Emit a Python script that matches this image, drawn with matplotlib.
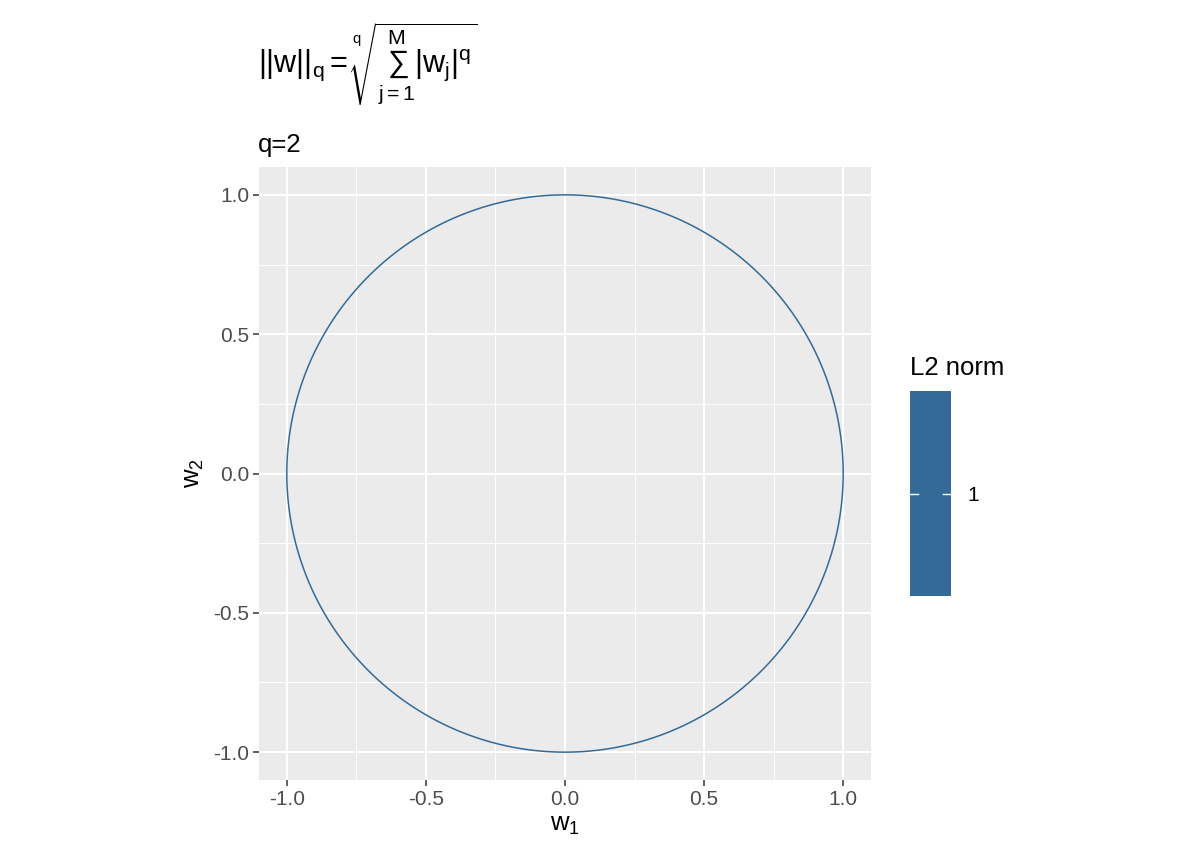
import numpy as np
import matplotlib.pyplot as plt

plt.rcParams['font.family'] = ['Liberation Sans', 'DejaVu Sans']
plt.rcParams['mathtext.fontset'] = 'custom'
plt.rcParams['mathtext.rm'] = 'Liberation Sans'
plt.rcParams['mathtext.it'] = 'Liberation Sans'
plt.rcParams['mathtext.bf'] = 'Liberation Sans:bold'

# data
q = 2
levels = [1]
ticks = [-1.0, -0.5, 0.0, 0.5, 1.0]
tick_labels = ['-1.0', '-0.5', '0.0', '0.5', '1.0']
minor = [-0.75, -0.25, 0.25, 0.75]
line_color = '#336A98'

w1 = np.linspace(-1, 1, 201)
w2 = np.linspace(-1, 1, 201)
W1, W2 = np.meshgrid(w1, w2)
norm = (np.abs(W1) ** q + np.abs(W2) ** q) ** (1 / q)

fig = plt.figure(figsize=(12, 8.57), dpi=100)
ax = fig.add_axes([259 / 1200, 77 / 857, 612 / 1200, 613 / 857])
ax.set_facecolor('#EBEBEB')
for s in ax.spines.values():
    s.set_visible(False)

ax.contour(W1, W2, norm, levels=levels, colors=[line_color], linewidths=1.1)

ax.set_xlim(-1.1, 1.1)
ax.set_ylim(-1.1, 1.1)
ax.set_xticks(ticks)
ax.set_xticklabels(tick_labels)
ax.set_yticks(ticks)
ax.set_yticklabels(tick_labels)
ax.set_xticks(minor, minor=True)
ax.set_yticks(minor, minor=True)
ax.grid(True, which='major', color='white', linewidth=1.5)
ax.grid(True, which='minor', color='white', linewidth=0.7)
ax.set_axisbelow(True)
ax.tick_params(which='major', length=4, width=1.1, color='#333333',
               labelsize=15, labelcolor='#4D4D4D', pad=3)
ax.tick_params(which='minor', length=0)

ax.set_xlabel('$w_1$', fontsize=18.5, labelpad=3)
ax.set_ylabel('$w_2$', fontsize=18.5, labelpad=5)

# titles
fig.text(258 / 1200, 1 - 145 / 857, 'q=2', fontsize=18.5, va='center', ha='left')
fig.text(258 / 1200, 1 - 64 / 857,
         r'$||w||_q = \sqrt[q]{\sum_{j=1}^{M}|w_j|^q}$',
         fontsize=22, va='center', ha='left')

# legend / colour bar
cax = fig.add_axes([910 / 1200, 1 - 596 / 857, 41 / 1200, 205 / 857])
cax.set_facecolor(line_color)
cax.set_xlim(0, 1)
cax.set_ylim(0, 2)
for s in cax.spines.values():
    s.set_visible(False)
for lv in levels:
    cax.plot([0, 0.2], [lv, lv], color='white', lw=1)
    cax.plot([0.8, 1], [lv, lv], color='white', lw=1)
cax.set_xticks([])
cax.yaxis.tick_right()
cax.set_yticks(levels)
cax.set_yticklabels([str(lv) for lv in levels])
cax.tick_params(axis='y', length=0, labelsize=15, labelcolor='black', pad=12)
fig.text(910 / 1200, 1 - 368 / 857, 'L2 norm', fontsize=18.5, va='center', ha='left')

fig.savefig('out.png', dpi=100)
